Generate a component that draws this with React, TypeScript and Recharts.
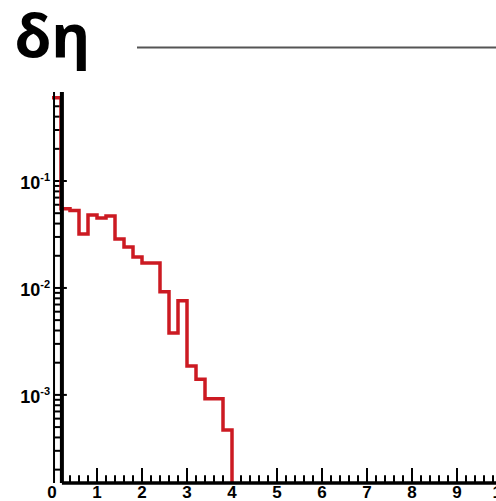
import React from 'react';
import { LineChart, Line, XAxis, YAxis, ReferenceLine } from 'recharts';

// histogram: left bin edges (width 0.2) and contents, 0 = empty bin
const binEdges = [0, 0.2, 0.4, 0.6, 0.8, 1.0, 1.2, 1.4, 1.6, 1.8, 2.0, 2.2, 2.4, 2.6, 2.8, 3.0, 3.2, 3.4, 3.6, 3.8, 4.0];
const binValues = [0.6, 0.055, 0.053, 0.032, 0.048, 0.045, 0.047, 0.0287, 0.0242, 0.0195, 0.0171, 0.0171, 0.0092, 0.0038, 0.0076, 0.00186, 0.0014, 0.00092, 0.00092, 0.00047, 0];

const xMajorTicks = [0, 1, 2, 3, 4, 5, 6, 7, 8, 9, 10];
const xMinorSteps = [0.2, 0.4, 0.6, 0.8];
const yMajorTicks = [0.001, 0.01, 0.1];
const yMajorLabels = ['-3', '-2', '-1'];
const yDecades = [0.0001, 0.001, 0.01, 0.1];
const yMultipliers = [1, 2, 3, 4, 5, 6, 7, 8, 9];

const yFloor = 1.5e-4;
const yTop = 0.68;
const xMax = 10.4;
const frameX = 0.045; // thin outer frame line
const axisX = 0.22; // thick y axis

const data = binEdges.map((x, i) => ({ x, y: binValues[i] > 0 ? binValues[i] : yFloor }));

const xTicks: number[] = [];
xMajorTicks.forEach((m) => {
  xTicks.push(m);
  xMinorSteps.forEach((s) => {
    if (m + s <= xMax) xTicks.push(Math.round((m + s) * 10) / 10);
  });
});

const yTicks: number[] = [];
yDecades.forEach((d) => yMultipliers.forEach((k) => {
  const v = d * k;
  if (v >= yFloor && v <= yTop) yTicks.push(v);
}));

const isXMajor = (v: number) => Math.abs(v - Math.round(v)) < 1e-6;
const yMajorIndex = (v: number) => yMajorTicks.findIndex((m) => Math.abs(v / m - 1) < 1e-6);

const renderXTick = (props: any) => {
  const { x, y, payload } = props;
  const v = payload.value;
  if (!isXMajor(v)) return <g key={`xt-${v}`} />;
  return (
    <text key={`xt-${v}`} x={x} y={y + 15} textAnchor="middle" fontSize={17} fontWeight="bold" fontFamily="Liberation Sans, Arial, sans-serif" fill="#000">
      {v}
    </text>
  );
};

const renderYTick = (props: any) => {
  const { x, y, payload } = props;
  const idx = yMajorIndex(payload.value);
  if (idx < 0) return <g key={`yt-${payload.value}`} />;
  return (
    <text key={`yt-${payload.value}`} x={x - 2} y={y + 8} textAnchor="end" fontSize={18} fontWeight="bold" fontFamily="Liberation Sans, Arial, sans-serif" fill="#000">
      10
      <tspan dy={-8} fontSize={11}>{yMajorLabels[idx]}</tspan>
    </text>
  );
};

export default function App() {
  return (
    <div style={{ position: 'fixed', left: 0, top: 0, width: 496, height: 501, overflow: 'hidden', background: '#fff' }}>
      <svg width={496} height={90} style={{ position: 'absolute', left: 0, top: 0 }}>
        <text x={15} y={57} fontSize={60} fontWeight="bold" fontFamily="Noto Sans, sans-serif" fill="#000">δη</text>
        <line x1={137} x2={496} y1={47.5} y2={47.5} stroke="#555" strokeWidth={2} />
      </svg>
      <div style={{ position: 'absolute', left: 0, top: 0 }}>
        <LineChart width={530} height={501} data={data} margin={{ top: 92, right: 10, bottom: 0, left: 2 }}>
          <XAxis
            dataKey="x"
            type="number"
            domain={[0, xMax]}
            ticks={xTicks}
            interval={0}
            allowDataOverflow
            tick={renderXTick}
            tickLine={false}
            axisLine={false}
            tickSize={0}
            tickMargin={0}
            height={18}
          />
          <YAxis
            scale="log"
            domain={[yFloor, yTop]}
            ticks={yTicks}
            interval={0}
            allowDataOverflow
            tick={renderYTick}
            tickLine={false}
            axisLine={false}
            tickSize={0}
            tickMargin={0}
            width={50}
          />
          {/* y tick rungs between frame and axis */}
          {yTicks.map((v) => (
            <ReferenceLine
              key={`yr-${v}`}
              segment={[{ x: frameX, y: v }, { x: yMajorIndex(v) >= 0 ? 0.33 : axisX, y: v }]}
              stroke="#000"
              strokeWidth={2}
              ifOverflow="visible"
            />
          ))}
          {/* x ticks pointing up from the axis */}
          {xTicks.filter((v) => v > 0.3).map((v) => (
            <ReferenceLine
              key={`xr-${v}`}
              segment={[{ x: v, y: yFloor }, { x: v, y: yFloor * (isXMajor(v) ? 1.38 : 1.18) }]}
              stroke="#000"
              strokeWidth={2}
              ifOverflow="visible"
            />
          ))}
          <Line
            type="stepAfter"
            dataKey="y"
            stroke="#cc1a22"
            strokeWidth={3.5}
            dot={false}
            isAnimationActive={false}
          />
          <ReferenceLine x={frameX} stroke="#000" strokeWidth={2} ifOverflow="visible" />
          <ReferenceLine x={axisX} stroke="#000" strokeWidth={4} />
          <ReferenceLine segment={[{ x: axisX, y: yFloor }, { x: xMax, y: yFloor }]} stroke="#000" strokeWidth={3.5} />
        </LineChart>
      </div>
    </div>
  );
}
